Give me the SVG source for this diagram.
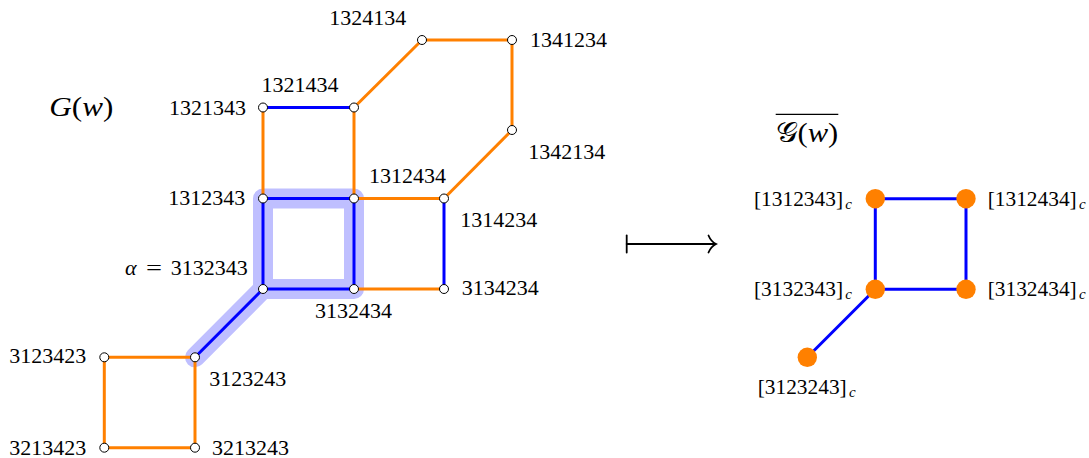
<svg xmlns="http://www.w3.org/2000/svg" width="1089" height="458" viewBox="0 0 1089 458">
<style>
text{font-family:"Liberation Serif","DejaVu Serif",serif;font-size:22px;fill:#000}
.it{font-style:italic}
.sub{font-style:italic;font-size:15px}
.o{stroke:#ff8000;stroke-width:3;fill:none}
.b{stroke:#0000ff;stroke-width:3;fill:none}
.v{fill:#fff;stroke:#000;stroke-width:1}
.cv{fill:#ff8000}
.hl{stroke:#bfbfff;stroke-width:20;fill:none;stroke-linejoin:round;stroke-linecap:round}
.ar{stroke:#000;stroke-width:1.8;fill:none;stroke-linecap:round}
</style>
<rect width="1089" height="458" fill="#fff"/>

<g id="title-left"><text class="it" x="49.3" y="115.7" style="font-size:28px" textLength="64" lengthAdjust="spacingAndGlyphs"><tspan class="it">G</tspan><tspan style="font-style:normal">(</tspan><tspan class="it">w</tspan><tspan style="font-style:normal">)</tspan></text></g>

<g id="highlight">
<path class="hl" d="M263,198.5 H354 V289 H263 Z M263,289 L195,357.3"/>
</g>

<g id="connectors">
<line class="o" x1="263" y1="107.5" x2="263" y2="198.5"/>
<line class="o" x1="354" y1="107.5" x2="354" y2="198.5"/>
<line class="o" x1="354" y1="107.5" x2="422" y2="40"/>
<line class="o" x1="422" y1="40" x2="512" y2="40"/>
<line class="o" x1="512" y1="40" x2="512" y2="130"/>
<line class="o" x1="512" y1="130" x2="444" y2="198.5"/>
<line class="o" x1="354" y1="198.5" x2="444" y2="198.5"/>
<line class="o" x1="354" y1="289" x2="444" y2="289"/>
<line class="o" x1="104.3" y1="357.3" x2="195" y2="357.3"/>
<line class="o" x1="104.3" y1="357.3" x2="104.3" y2="447.7"/>
<line class="o" x1="104.3" y1="447.7" x2="195" y2="447.7"/>
<line class="o" x1="195" y1="357.3" x2="195" y2="447.7"/>
<line class="b" x1="263" y1="107.5" x2="354" y2="107.5"/>
<line class="b" x1="263" y1="198.5" x2="354" y2="198.5"/>
<line class="b" x1="263" y1="198.5" x2="263" y2="289"/>
<line class="b" x1="354" y1="198.5" x2="354" y2="289"/>
<line class="b" x1="263" y1="289" x2="354" y2="289"/>
<line class="b" x1="444" y1="198.5" x2="444" y2="289"/>
<line class="b" x1="263" y1="289" x2="195" y2="357.3"/>
<line class="b" x1="875.3" y1="198.7" x2="966" y2="198.7"/>
<line class="b" x1="875.3" y1="198.7" x2="875.3" y2="289.3"/>
<line class="b" x1="966" y1="198.7" x2="966" y2="289.3"/>
<line class="b" x1="875.3" y1="289.3" x2="966" y2="289.3"/>
<line class="b" x1="875.3" y1="289.3" x2="807.3" y2="357.3"/>
<g id="mapsto">
<line class="ar" x1="626.7" y1="235.5" x2="626.7" y2="252.5"/>
<line class="ar" x1="626.7" y1="244" x2="715.5" y2="244"/>
<path class="ar" d="M708.5,235.5 Q711,241.5 716,244 Q711,246.5 708.5,252.5"/>
</g>
</g>

<g id="n1324134"><circle class="v" cx="422" cy="40" r="4.5"/><text x="329.3" y="25.3">1324134</text></g>
<g id="n1341234"><circle class="v" cx="512" cy="40" r="4.5"/><text x="530" y="47.3">1341234</text></g>
<g id="n1342134"><circle class="v" cx="512" cy="130" r="4.5"/><text x="528.3" y="159.3">1342134</text></g>
<g id="n1321343"><circle class="v" cx="263" cy="107.5" r="4.5"/><text x="169" y="115">1321343</text></g>
<g id="n1321434"><circle class="v" cx="354" cy="107.5" r="4.5"/><text x="261.4" y="92.3">1321434</text></g>
<g id="n1312343"><circle class="v" cx="263" cy="198.5" r="4.5"/><text x="168.3" y="205">1312343</text></g>
<g id="n1312434"><circle class="v" cx="354" cy="198.5" r="4.5"/><text x="369" y="183.3">1312434</text></g>
<g id="n1314234"><circle class="v" cx="444" cy="198.5" r="4.5"/><text x="460.3" y="227.3">1314234</text></g>
<g id="n3132343"><circle class="v" cx="263" cy="289" r="4.5"/><text class="it" x="125" y="275.3">α</text><text x="146" y="275.3" textLength="16" lengthAdjust="spacingAndGlyphs">=</text><text x="170.7" y="275.3">3132343</text></g>
<g id="n3132434"><circle class="v" cx="354" cy="289" r="4.5"/><text x="315" y="318.3">3132434</text></g>
<g id="n3134234"><circle class="v" cx="444" cy="289" r="4.5"/><text x="461.7" y="295.3">3134234</text></g>
<g id="n3123243"><circle class="v" cx="195" cy="357.3" r="4.5"/><text x="209.3" y="386">3123243</text></g>
<g id="n3123423"><circle class="v" cx="104.3" cy="357.3" r="4.5"/><text x="9.3" y="363.3">3123423</text></g>
<g id="n3213423"><circle class="v" cx="104.3" cy="447.7" r="4.5"/><text x="9.3" y="454.5">3213423</text></g>
<g id="n3213243"><circle class="v" cx="195" cy="447.7" r="4.5"/><text x="212" y="454.5">3213243</text></g>

<g id="title-right">
<text x="775.7" y="141.7" style="font-size:28px" textLength="62.6" lengthAdjust="spacingAndGlyphs"><tspan style="font-family:'DejaVu Serif','DejaVu Sans','Noto Sans',serif">𝒢</tspan>(<tspan class="it">w</tspan>)</text>
<line x1="775.7" y1="114.3" x2="838.3" y2="114.3" stroke="#000" stroke-width="1.3"/>
</g>

<g id="c1312343"><circle class="cv" cx="875.3" cy="198.7" r="9.7"/><text x="754" y="206" textLength="89" lengthAdjust="spacingAndGlyphs">[1312343]</text><text class="sub" x="845.3" y="209">c</text></g>
<g id="c1312434"><circle class="cv" cx="966" cy="198.7" r="9.7"/><text x="987.7" y="206" textLength="89" lengthAdjust="spacingAndGlyphs">[1312434]</text><text class="sub" x="1079" y="209">c</text></g>
<g id="c3132343"><circle class="cv" cx="875.3" cy="289.3" r="9.7"/><text x="754" y="296" textLength="89" lengthAdjust="spacingAndGlyphs">[3132343]</text><text class="sub" x="845.3" y="299">c</text></g>
<g id="c3132434"><circle class="cv" cx="966" cy="289.3" r="9.7"/><text x="987.7" y="296" textLength="89" lengthAdjust="spacingAndGlyphs">[3132434]</text><text class="sub" x="1079" y="299">c</text></g>
<g id="c3123243"><circle class="cv" cx="807.3" cy="357.3" r="9.7"/><text x="757.7" y="394" textLength="89" lengthAdjust="spacingAndGlyphs">[3123243]</text><text class="sub" x="849" y="397">c</text></g>
</svg>
